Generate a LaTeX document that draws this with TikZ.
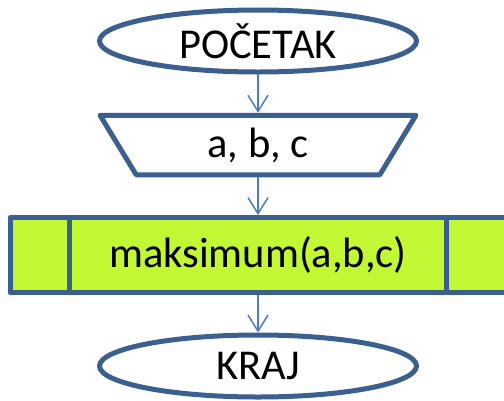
\documentclass[tikz,border=0pt]{standalone}
\usepackage{fontspec}
\setmainfont{Carlito}
\usetikzlibrary{shapes.geometric,arrows.meta}
\definecolor{rub}{HTML}{3B5F8F}
\definecolor{strel}{HTML}{4A7EBB}
\definecolor{zel}{HTML}{C2F833}

\begin{document}
\begin{tikzpicture}[x=1pt,y=-1pt,line join=round,
  every node/.style={font=\fontsize{42.5}{50}\selectfont,inner sep=0pt,draw=rub,line width=5pt},
  krug/.style={ellipse,minimum width=317pt,minimum height=62pt},
  ulaz/.style={trapezium,shape border rotate=180,trapezium angle=44,
    minimum height=59.5pt,minimum width=316pt,trapezium stretches body},
  potprog/.style={rectangle,fill=zel,minimum width=496pt,minimum height=75pt},
  tok/.style={-{Straight Barb[length=16pt,width=20pt]},draw=strel,line width=1.5pt}]
  \useasboundingbox (0,0) rectangle (504,400);
  % blokovi
  \node[krug] (pocetak) at (258,41) {POČETAK};
  \node[ulaz] (ulaz) at (258,145) {a, b, c};
  \node[potprog] (maks) at (258,255) {maksimum(a,b,c)};
  \node[krug] (kraj) at (258,366) {KRAJ};
  % okomite crte potprograma
  \draw[rub,line width=5pt] ([xshift=62pt]maks.north west) -- ([xshift=62pt]maks.south west);
  \draw[rub,line width=5pt] ([xshift=-62pt]maks.north east) -- ([xshift=-62pt]maks.south east);
  % strelice
  \foreach \a/\b in {pocetak/ulaz,ulaz/maks,maks/kraj}
    \draw[tok] (\a) -- (\b);
\end{tikzpicture}
\end{document}
